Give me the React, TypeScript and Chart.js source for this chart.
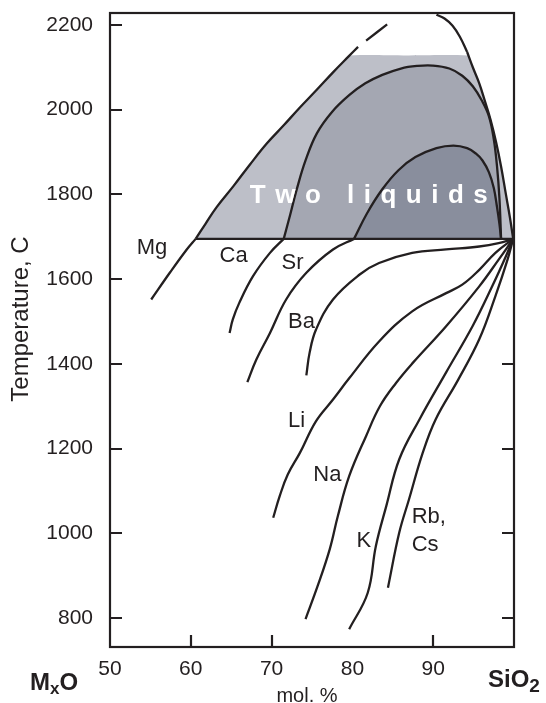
import React, { useEffect, useRef } from 'react';
import { Chart, registerables } from 'chart.js';

Chart.register(...registerables);

// ---------- axes ----------
const X_MIN = 50;
const X_MAX = 100;
const Y_MIN = 732;
const Y_MAX = 2228;
const xTickValues = [50, 60, 70, 80, 90];
const yTickValues = [800, 1000, 1200, 1400, 1600, 1800, 2000, 2200];
const leftTickMarks = [800, 1000, 1200, 1400, 1600, 1800, 2000, 2200];
const rightTickMarks = [800, 1000, 1200, 1400];
const bottomTickMarks = [60, 70, 90];

// ---------- data: [mol.% SiO2, temperature C] ----------
const eutecticT = 1695;
const eutecticLine = [[60.6, 1695], [99.9, 1695]];

const outerDomeLeft = [[60.6, 1695], [61.8, 1730], [63.2, 1770], [65.3, 1820], [67.3, 1870], [69.4, 1920], [71.5, 1963], [73.5, 2005], [75.5, 2045], [77.6, 2088], [79.5, 2125], [80.7, 2148]];
const outerDash1 = [[81.7, 2163], [84.3, 2201]];
const outerDash2 = [[90.4, 2224], [91.4, 2215], [92.4, 2198], [93.3, 2172], [94.2, 2136]];
const outerDomeRight = [[94.2, 2136], [94.9, 2100], [95.7, 2062], [96.4, 2020], [97.1, 1976], [97.8, 1922], [98.4, 1866], [99.0, 1800], [99.5, 1745], [99.9, 1695]];
const outerShade = [[60.6, 1695], [61.8, 1730], [63.2, 1770], [65.3, 1820], [67.3, 1870], [69.4, 1920], [71.5, 1963], [73.5, 2005], [75.5, 2045], [77.6, 2088], [79.3, 2122], [79.6, 2128], [87.0, 2128], [94.35, 2128], [94.45, 2123], [94.9, 2100], [95.7, 2062], [96.4, 2020], [97.1, 1976], [97.8, 1922], [98.4, 1866], [99.0, 1800], [99.5, 1745], [99.9, 1695]];

const midDome = [[71.5, 1695], [72.3, 1752], [73.1, 1811], [74.2, 1880], [75.6, 1944], [77.5, 1995], [79.6, 2034], [81.6, 2062], [83.7, 2082], [86.0, 2097], [88.0, 2103], [89.9, 2104], [92.0, 2097], [93.6, 2080], [94.9, 2055], [96.0, 2022], [96.9, 1984], [97.5, 1930], [97.9, 1866], [98.2, 1790], [98.4, 1695]];
const innerDome = [[80.2, 1695], [81.8, 1755], [83.7, 1812], [85.7, 1857], [87.8, 1888], [90.4, 1909], [92.5, 1915], [94.2, 1909], [95.3, 1896], [96.1, 1880], [96.9, 1852], [97.5, 1815], [97.9, 1770], [98.2, 1730], [98.4, 1695]];

const mgLiquidus = [[55.1, 1552], [57.4, 1615], [59.5, 1670], [60.6, 1695]];
const caLiquidus = [[64.8, 1473], [65.2, 1505], [66.0, 1544], [67.7, 1607], [69.8, 1662], [71.5, 1695]];
const srLiquidus = [[67.0, 1357], [68.1, 1410], [69.8, 1473], [71.8, 1552], [74.3, 1615], [77.6, 1670], [80.2, 1695]];
const baLiquidus = [[74.3, 1373], [74.7, 1426], [75.5, 1481], [77.6, 1552], [80.9, 1611], [83.3, 1638], [87.4, 1662], [91.6, 1670], [95.7, 1677], [98.1, 1685], [99.9, 1695]];
const liLiquidus = [[70.2, 1037], [71.0, 1088], [72.0, 1139], [73.5, 1190], [75.5, 1265], [77.6, 1316], [79.6, 1366], [83.3, 1453], [87.4, 1524], [91.6, 1567], [93.6, 1587], [95.7, 1622], [97.7, 1662], [99.9, 1695]];
const naLiquidus = [[74.2, 798], [75.7, 876], [77.2, 963], [78.2, 1041], [79.6, 1135], [81.7, 1230], [83.4, 1300], [85.4, 1355], [87.5, 1403], [91.6, 1489], [95.7, 1583], [98.1, 1646], [99.9, 1695]];
const kLiquidus = [[79.6, 774], [81.9, 860], [82.9, 970], [84.2, 1065], [85.8, 1175], [88.3, 1269], [91.6, 1380], [94.9, 1490], [97.3, 1583], [99.0, 1654], [99.9, 1695]];
const rbCsLiquidus = [[84.4, 872], [85.8, 1002], [87.0, 1080], [88.7, 1190], [90.3, 1269], [93.1, 1363], [95.7, 1458], [97.7, 1560], [99.2, 1646], [99.9, 1695]];

// ---------- labels ----------
const curveLabelText = ['Mg', 'Ca', 'Sr', 'Ba', 'Li', 'Na', 'K'];
const curveLabelX = [55.2, 65.3, 72.6, 73.7, 73.1, 76.9, 81.4];
const curveLabelT = [1674, 1654, 1639, 1498, 1266, 1139, 983];
const leftLabelText = ['Rb,', 'Cs'];
const leftLabelX = [87.33, 87.33];
const leftLabelT = [1040, 974];
const regionLabel = 'Two liquids';
const regionLabelAt = [67.3, 1780];

const INK = '#231f20';
const LIGHT = '#bdbfc8';
const MID = '#a4a7b2';
const DARK = '#898e9d';
const FONT = '"Liberation Sans", Arial, sans-serif';

const toPts = (arr: number[][]) => arr.map(([x, y]) => ({ x, y }));

function lineSet(arr: number[][], order: number) {
  return {
    data: toPts(arr),
    showLine: true,
    borderColor: INK,
    borderWidth: 2.3,
    pointRadius: 0,
    fill: false,
    tension: 0.4,
    order,
  };
}

function shadeSet(arr: number[][], color: string, order: number) {
  return {
    data: toPts(arr),
    showLine: true,
    borderColor: 'rgba(0,0,0,0)',
    borderWidth: 1,
    backgroundColor: color,
    pointRadius: 0,
    fill: { value: eutecticT },
    tension: 0.4,
    order,
  };
}

const framePlugin = {
  id: 'frameAndText',
  afterDraw(chart: any) {
    const { ctx, chartArea: a, scales } = chart;
    const xs = scales.x;
    const ys = scales.y;
    const px = (v: number) => xs.getPixelForValue(v);
    const py = (v: number) => ys.getPixelForValue(v);
    ctx.save();
    ctx.strokeStyle = INK;
    ctx.lineWidth = 2.2;
    ctx.strokeRect(a.left, a.top, a.right - a.left, a.bottom - a.top);
    const TL = 12;
    ctx.beginPath();
    leftTickMarks.forEach((v) => {
      const y = Math.round(py(v));
      ctx.moveTo(a.left, y);
      ctx.lineTo(a.left + TL, y);
    });
    rightTickMarks.forEach((v) => {
      const y = Math.round(py(v));
      ctx.moveTo(a.right, y);
      ctx.lineTo(a.right - TL, y);
    });
    bottomTickMarks.forEach((v) => {
      const x = Math.round(px(v));
      ctx.moveTo(x, a.bottom);
      ctx.lineTo(x, a.bottom - TL);
    });
    ctx.stroke();

    // curve labels
    ctx.fillStyle = INK;
    ctx.font = `22px ${FONT}`;
    ctx.textBaseline = 'middle';
    ctx.textAlign = 'center';
    curveLabelText.forEach((t, i) => ctx.fillText(t, px(curveLabelX[i]), py(curveLabelT[i])));
    ctx.textAlign = 'left';
    leftLabelText.forEach((t, i) => ctx.fillText(t, px(leftLabelX[i]), py(leftLabelT[i])));

    // region label with wide letter spacing
    ctx.fillStyle = '#ffffff';
    ctx.font = `bold 26px ${FONT}`;
    ctx.textBaseline = 'alphabetic';
    ctx.textAlign = 'left';
    let cx = px(regionLabelAt[0]);
    const cy = py(regionLabelAt[1]);
    for (const ch of regionLabel) {
      ctx.fillText(ch, cx, cy);
      cx += ctx.measureText(ch).width + 9.5;
    }

    // axis titles
    ctx.fillStyle = INK;
    ctx.font = `24px ${FONT}`;
    ctx.textAlign = 'center';
    ctx.textBaseline = 'middle';
    ctx.save();
    ctx.translate(21, 319);
    ctx.rotate(-Math.PI / 2);
    ctx.fillText('Temperature, C', 0, 0);
    ctx.restore();

    ctx.font = `20px ${FONT}`;
    ctx.textBaseline = 'alphabetic';
    ctx.fillText('mol. %', (a.left + a.right) / 2 - 5, 702);

    // end-member labels
    ctx.textAlign = 'left';
    ctx.font = `bold 24px ${FONT}`;
    let mx = 30;
    ctx.fillText('M', mx, 690);
    mx += ctx.measureText('M').width;
    ctx.font = `bold 17px ${FONT}`;
    ctx.fillText('x', mx, 694);
    mx += ctx.measureText('x').width;
    ctx.font = `bold 24px ${FONT}`;
    ctx.fillText('O', mx, 690);

    let sx = 488;
    ctx.fillText('SiO', sx, 687);
    sx += ctx.measureText('SiO').width;
    ctx.font = `bold 19px ${FONT}`;
    ctx.fillText('2', sx, 692);
    ctx.restore();
  },
};

export default function App() {
  const ref = useRef<HTMLCanvasElement | null>(null);
  useEffect(() => {
    document.body.style.margin = '0';
    const canvas = ref.current;
    if (!canvas) return;
    const datasets: any[] = [
      shadeSet(outerShade, LIGHT, 30),
      shadeSet(midDome, MID, 29),
      shadeSet(innerDome, DARK, 28),
      lineSet(eutecticLine, 5),
      lineSet(outerDomeLeft, 4),
      lineSet(outerDash1, 4),
      lineSet(outerDash2, 4),
      lineSet(outerDomeRight, 4),
      lineSet(midDome, 4),
      lineSet(innerDome, 4),
      lineSet(mgLiquidus, 3),
      lineSet(caLiquidus, 3),
      lineSet(srLiquidus, 3),
      lineSet(baLiquidus, 3),
      lineSet(liLiquidus, 3),
      lineSet(naLiquidus, 3),
      lineSet(kLiquidus, 3),
      lineSet(rbCsLiquidus, 3),
    ];
    const tickFont = { family: FONT, size: 21 };
    const chart = new Chart(canvas, {
      type: 'scatter',
      data: { datasets },
      options: {
        responsive: false,
        animation: false,
        devicePixelRatio: 1,
        layout: { padding: { left: 0, right: 32, top: 13, bottom: 0 } },
        plugins: { legend: { display: false }, tooltip: { enabled: false } },
        scales: {
          x: {
            type: 'linear',
            min: X_MIN,
            max: X_MAX,
            afterBuildTicks: (s: any) => {
              s.ticks = xTickValues.map((v) => ({ value: v }));
            },
            afterFit: (s: any) => {
              s.height = 56;
              s.paddingLeft = 0;
              s.paddingRight = 0;
              s.paddingTop = 0;
              s.paddingBottom = 0;
            },
            grid: { display: false, drawTicks: false, tickLength: 0 },
            border: { display: false },
            ticks: { padding: 10, font: tickFont, color: INK, maxRotation: 0, autoSkip: false, callback: (v: any) => String(v) },
          },
          y: {
            type: 'linear',
            min: Y_MIN,
            max: Y_MAX,
            afterBuildTicks: (s: any) => {
              s.ticks = yTickValues.map((v) => ({ value: v }));
            },
            afterFit: (s: any) => {
              s.width = 110;
              s.paddingLeft = 0;
              s.paddingRight = 0;
              s.paddingTop = 0;
              s.paddingBottom = 0;
            },
            grid: { display: false, drawTicks: false, tickLength: 0 },
            border: { display: false },
            ticks: { padding: 17, font: tickFont, color: INK, autoSkip: false, callback: (v: any) => String(v) },
          },
        },
      },
      plugins: [framePlugin],
    } as any);
    return () => chart.destroy();
  }, []);
  return (
    <div style={{ position: 'fixed', left: 0, top: 0, width: 546, height: 703, background: '#fff' }}>
      <canvas ref={ref} width={546} height={703} style={{ display: 'block', width: 546, height: 703 }} />
    </div>
  );
}
